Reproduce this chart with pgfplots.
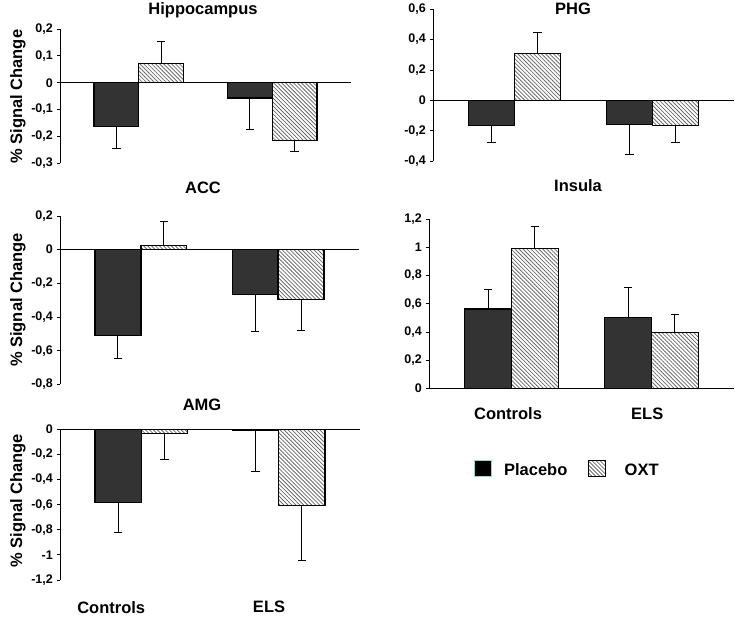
\documentclass[border=0pt]{standalone}
\usepackage{pgfplots}
\pgfplotsset{compat=1.18}
\usepackage{fontspec}
\setmainfont{Liberation Sans}
\usetikzlibrary{patterns.meta}
\definecolor{dark}{RGB}{51,51,51}
\definecolor{hatch}{RGB}{105,105,105}
\newcommand{\tfont}{\fontsize{16.5}{18}\selectfont\bfseries}
\pgfplotsset{
  panel/.style={
    scale only axis,
    anchor=south west,
    xmin=0.41, xmax=2.59,
    axis y line=left,
    axis x line=bottom,
    axis line style={-, black, line width=0.8pt},
    x axis line style={draw=none},
    xtick style={draw=none},
    xtick=\empty,
    tick align=outside,
    major tick length=3pt,
    ytick style={black, line width=0.8pt},
    tick label style={font=\fontsize{12.5}{14}\selectfont\bfseries},
    yticklabel style={inner sep=0pt, xshift=-4pt},
    xticklabel style={font=\tfont, anchor=north, inner sep=0pt},
    ybar, bar width=0.335,
    error bars/y dir=both, error bars/y explicit,
    error bars/error bar style={black, line width=1pt},
    error bars/error mark options={rotate=90, mark size=4.3pt, line width=1pt, black},
    clip=false,
  },
  plac/.style={draw=black, line width=1.2pt, fill=dark, bar shift=-0.1675},
  oxt/.style={draw=black, line width=1.2pt, pattern={Lines[angle=-45,distance=2.8pt,line width=0.8pt]}, pattern color=hatch, bar shift=0.1675},
}
\begin{document}
\begin{tikzpicture}
\path[use as bounding box] (0pt,0pt) rectangle (735pt,617pt);

% Hippocampus
\begin{axis}[panel, at={(60pt,453.7pt)}, width=291pt, height=134.3pt,
  ymin=-0.3, ymax=0.2, ytick={-0.3,-0.2,-0.1,0,0.1,0.2},
  yticklabels={{-0,3},{-0,2},{-0,1},{0},{0,1},{0,2}}]
\draw[black, line width=0.8pt] (axis cs:0.41,0) -- (axis cs:2.59,0);
\addplot[plac] coordinates {(1,-0.164) += (0,0) -= (0,0.080) (2,-0.057) += (0,0) -= (0,0.118)};
\addplot[oxt] coordinates {(1,0.072) += (0,0.080) -= (0,0) (2,-0.216) += (0,0) -= (0,0.041)};
\end{axis}

% PHG
\begin{axis}[panel, at={(433pt,455.7pt)}, width=301pt, height=152.3pt,
  ymin=-0.4, ymax=0.6, ytick={-0.4,-0.2,0,0.2,0.4,0.6},
  yticklabels={{-0,4},{-0,2},{0},{0,2},{0,4},{0,6}}]
\draw[black, line width=0.8pt] (axis cs:0.41,0) -- (axis cs:2.59,0);
\addplot[plac] coordinates {(1,-0.167) += (0,0) -= (0,0.107) (2,-0.160) += (0,0) -= (0,0.195)};
\addplot[oxt] coordinates {(1,0.307) += (0,0.140) -= (0,0) (2,-0.167) += (0,0) -= (0,0.107)};
\end{axis}

% ACC
\begin{axis}[panel, at={(60pt,232.7pt)}, width=299pt, height=168.3pt,
  ymin=-0.8, ymax=0.2, ytick={-0.8,-0.6,-0.4,-0.2,0,0.2},
  yticklabels={{-0,8},{-0,6},{-0,4},{-0,2},{0},{0,2}}]
\draw[black, line width=0.8pt] (axis cs:0.41,0) -- (axis cs:2.59,0);
\addplot[plac] coordinates {(1,-0.508) += (0,0) -= (0,0.137) (2,-0.268) += (0,0) -= (0,0.218)};
\addplot[oxt] coordinates {(1,0.026) += (0,0.141) -= (0,0) (2,-0.298) += (0,0) -= (0,0.181)};
\end{axis}

% Insula
\begin{axis}[panel, at={(429pt,228.3pt)}, width=305pt, height=169.7pt,
  ymin=0, ymax=1.2, ytick={0,0.2,0.4,0.6,0.8,1,1.2},
  yticklabels={{0},{0,2},{0,4},{0,6},{0,8},{1},{1,2}},
  xtick={0.975,1.97}, xticklabels={Controls,ELS},
  xticklabel style={yshift=-16pt},
  legend style={at={(0.1485,-0.484)}, anchor=west, draw=none, fill=none,
    inner sep=0pt, outer sep=0pt, legend columns=2, font=\tfont,
    nodes={inner sep=0pt},
    /tikz/every odd column/.append style={column sep=12.6pt},
    /tikz/every even column/.append style={column sep=21pt}},
  legend cell align=left]
\draw[black, line width=0.8pt] (axis cs:0.41,0) -- (axis cs:2.59,0);
\addplot[plac, forget plot] coordinates {(1,0.563) += (0,0.137) -= (0,0) (2,0.505) += (0,0.209) -= (0,0)};
\addplot[oxt, forget plot] coordinates {(1,0.994) += (0,0.151) -= (0,0) (2,0.396) += (0,0.130) -= (0,0)};
\addlegendimage{legend image code/.code={\draw[draw={rgb,255:red,150;green,215;blue,200}, line width=0.8pt, fill=black] (0pt,-4pt) rectangle (16.4pt,12.4pt);}}
\addlegendentry{\raisebox{5pt}{Placebo}}
\addlegendimage{legend image code/.code={\draw[black, line width=0.8pt, pattern={Lines[angle=-45,distance=2.8pt,line width=0.8pt]}, pattern color=hatch] (0pt,-4pt) rectangle (16.4pt,12.4pt);}}
\addlegendentry{\hspace{6.5pt}\raisebox{5pt}{OXT}}
\end{axis}

% AMG
\begin{axis}[panel, at={(60pt,37pt)}, width=300pt, height=150.7pt,
  ymin=-1.2, ymax=0, ytick={-1.2,-1,-0.8,-0.6,-0.4,-0.2,0},
  yticklabels={{-1,2},{-1},{-0,8},{-0,6},{-0,4},{-0,2},{0}},
  xtick={0.782,1.929}, xticklabels={Controls,ELS},
  xticklabel style={yshift=-18pt}]
\draw[black, line width=0.8pt] (axis cs:0.41,0) -- (axis cs:2.59,0);
\addplot[plac] coordinates {(1,-0.580) += (0,0) -= (0,0.239) (2,-0.011) += (0,0) -= (0,0.327)};
\addplot[oxt] coordinates {(1,-0.032) += (0,0) -= (0,0.205) (2,-0.604) += (0,0) -= (0,0.438)};
\end{axis}

% titles
\node[anchor=base, font=\tfont] at (203pt,602.3pt) {Hippocampus};
\node[anchor=base, font=\tfont] at (573pt,602pt) {PHG};
\node[anchor=base, font=\tfont] at (203pt,423.7pt) {ACC};
\node[anchor=base, font=\tfont] at (578pt,425.3pt) {Insula};
\node[anchor=base, font=\tfont] at (202pt,206pt) {AMG};
% y labels
\node[anchor=base, rotate=90, font=\tfont] at (22pt,520.3pt) {\% Signal Change};
\node[anchor=base, rotate=90, font=\tfont] at (22pt,317pt) {\% Signal Change};
\node[anchor=base, rotate=90, font=\tfont] at (22pt,116.2pt) {\% Signal Change};
\end{tikzpicture}
\end{document}
